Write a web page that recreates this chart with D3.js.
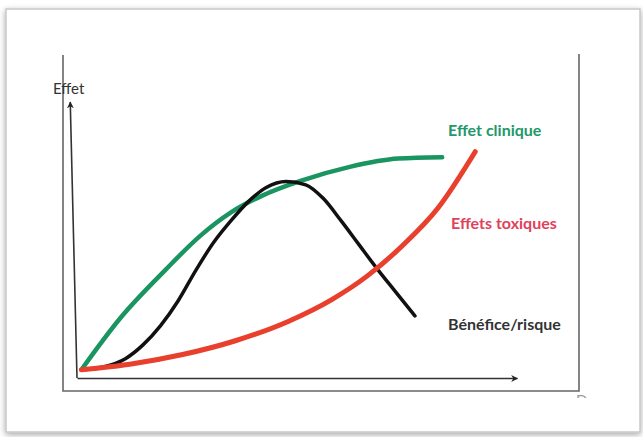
<!DOCTYPE html>
<html lang="fr">
<head>
<meta charset="utf-8">
<title>Effet / dose</title>
<style>
  body { margin: 0; background: #fff; }
  svg { display: block; font-family: Lato, "Open Sans", sans-serif; }
</style>
</head>
<body>
<script src="https://d3js.org/d3.v7.min.js"></script>
<script>
// data (dose 0-100 on x, effect 0-100 on y)
const cliniqueDose  = [1, 10, 20, 28, 35, 42, 51, 62, 73, 83];
const cliniqueEffet = [3, 22, 39, 51.5, 60, 66, 71.5, 76.5, 79.5, 80];

const beneficeDose  = [1, 6, 11, 15, 19, 23, 27, 31, 35, 39, 43, 47.5, 52, 56, 60, 64, 68, 72, 76.8];
const beneficeEffet = [3, 4, 7, 12, 19, 28, 39, 49, 57, 64, 69, 71.2, 70, 65, 57, 48.5, 40, 32, 22.5];

const toxiqueDose  = [1, 12, 24, 36, 48, 58, 66, 74, 82, 90.5];
const toxiqueEffet = [3, 5, 8.5, 13.5, 20.5, 28.5, 37, 48, 61.5, 82];

const seriesNames = ["Effet clinique", "Effets toxiques", "Bénéfice/risque"];

const W = 643, H = 437;
const svg = d3.select("body").append("svg")
    .attr("width", W)
    .attr("height", H);

const defs = svg.append("defs");
const shadow = defs.append("filter").attr("id", "shadow")
    .attr("x", "-5%").attr("y", "-5%").attr("width", "110%").attr("height", "110%");
shadow.append("feGaussianBlur").attr("in", "SourceAlpha").attr("stdDeviation", 3);
shadow.append("feOffset").attr("dx", 0).attr("dy", 2).attr("result", "b");
shadow.append("feComponentTransfer").append("feFuncA").attr("type", "linear").attr("slope", 0.35);
const mg = shadow.append("feMerge");
mg.append("feMergeNode");
mg.append("feMergeNode").attr("in", "SourceGraphic");

defs.append("marker")
    .attr("id", "arrow")
    .attr("viewBox", "0 0 10 10")
    .attr("refX", 9).attr("refY", 5)
    .attr("markerWidth", 7).attr("markerHeight", 7)
    .attr("markerUnits", "userSpaceOnUse")
    .attr("orient", "auto")
  .append("path")
    .attr("d", "M0,0 L10,5 L0,10 L3,5 Z")
    .attr("fill", "#222");

defs.append("clipPath").attr("id", "cut")
  .append("rect").attr("x", 560).attr("y", 380).attr("width", 70).attr("height", 18);

// the picture frame
svg.append("rect")
    .attr("x", 6).attr("y", 9)
    .attr("width", 634).attr("height", 423)
    .attr("fill", "#fff")
    .attr("stroke", "#c8c8c8")
    .attr("stroke-width", 1.5)
    .attr("filter", "url(#shadow)");

// inner box (open on top)
svg.append("path")
    .attr("d", "M63,55 V391 H579 V54")
    .attr("fill", "none")
    .attr("stroke", "#666")
    .attr("stroke-width", 1.6);

const x = d3.scaleLinear().domain([0, 100]).range([77, 517]);
const y = d3.scaleLinear().domain([0, 100]).range([378, 102]);

// x axis
const gx = svg.append("g")
    .attr("transform", "translate(0," + y(0) + ")")
    .call(d3.axisBottom(x).ticks(0).tickSizeOuter(0));
gx.select(".domain")
    .attr("stroke", "#333")
    .attr("stroke-width", 1.6)
    .attr("marker-end", "url(#arrow)");

// y axis, slightly tilted like the scan
const gy = svg.append("g")
    .attr("transform", "rotate(-1.4," + x(0) + "," + y(0) + ") translate(" + x(0) + ",0)")
    .call(d3.axisLeft(y).ticks(0).tickSizeOuter(0));
gy.select(".domain")
    .attr("d", "M0," + y(0) + "V" + y(100))
    .attr("stroke", "#333")
    .attr("stroke-width", 1.6)
    .attr("marker-end", "url(#arrow)");

svg.append("text")
    .attr("x", 53).attr("y", 94)
    .attr("font-size", 15)
    .attr("fill", "#333")
    .text("Effet");

// clipped axis caption at bottom right
svg.append("text")
    .attr("clip-path", "url(#cut)")
    .attr("x", 576).attr("y", 406)
    .attr("font-size", 15)
    .attr("fill", "#999")
    .text("Dose");

const line = d3.line()
    .x(d => x(d[0]))
    .y(d => y(d[1]))
    .curve(d3.curveMonotoneX);

const zip = (a, b) => a.map((v, i) => [v, b[i]]);

svg.append("path")
    .datum(zip(cliniqueDose, cliniqueEffet))
    .attr("d", line)
    .attr("fill", "none")
    .attr("stroke", "#1a9460")
    .attr("stroke-width", 4.5)
    .attr("stroke-linecap", "round");

svg.append("path")
    .datum(zip(beneficeDose, beneficeEffet))
    .attr("d", line)
    .attr("fill", "none")
    .attr("stroke", "#111")
    .attr("stroke-width", 3.5)
    .attr("stroke-linecap", "round");

svg.append("path")
    .datum(zip(toxiqueDose, toxiqueEffet))
    .attr("d", line)
    .attr("fill", "none")
    .attr("stroke", "#e8402c")
    .attr("stroke-width", 5)
    .attr("stroke-linecap", "round");

// labels
const labels = [
  {name: seriesNames[0], x: 448, y: 136, color: "#23976a"},
  {name: seriesNames[1], x: 451, y: 229, color: "#e0415a"},
  {name: seriesNames[2], x: 448, y: 330, color: "#333"}
];
svg.selectAll(".lbl")
  .data(labels)
  .join("text")
    .attr("class", "lbl")
    .attr("x", d => d.x)
    .attr("y", d => d.y)
    .attr("font-size", 16)
    .attr("font-weight", "bold")
    .attr("fill", d => d.color)
    .text(d => d.name);
</script>
</body>
</html>
